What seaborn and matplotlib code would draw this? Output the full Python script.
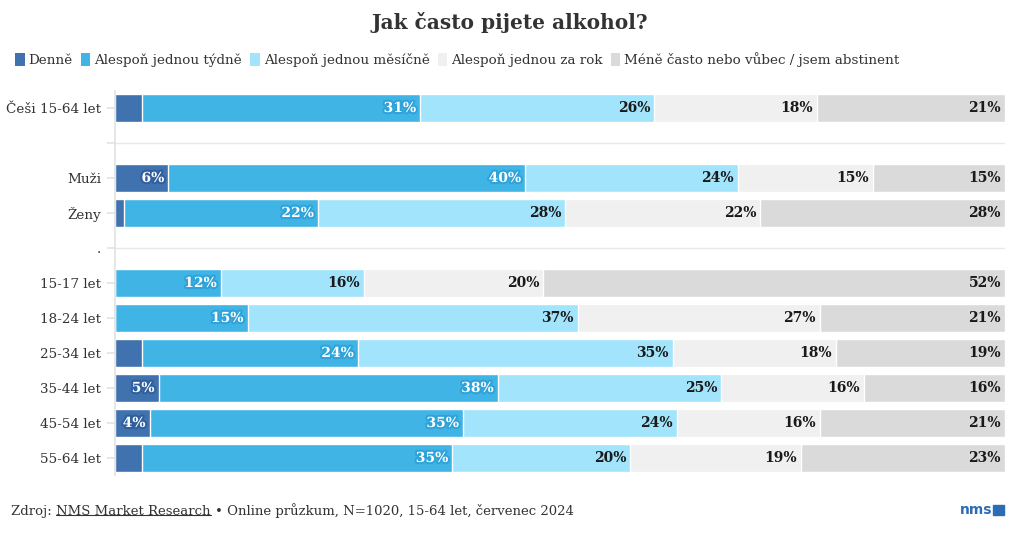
import pandas as pd
import seaborn as sns
import matplotlib.pyplot as plt
import matplotlib.patheffects as pe
from matplotlib.patches import Patch

# data (shares in %; labels show them rounded)
groups = ['Češi 15-64 let', ' ', 'Muži', 'Ženy', '.', '15-17 let', '18-24 let',
          '25-34 let', '35-44 let', '45-54 let', '55-64 let']
series = ['Denně', 'Alespoň jednou týdně', 'Alespoň jednou měsíčně',
          'Alespoň jednou za rok', 'Méně často nebo vůbec / jsem abstinent']
rows = ['Češi 15-64 let', 'Muži', 'Ženy', '15-17 let', '18-24 let',
        '25-34 let', '35-44 let', '45-54 let', '55-64 let']
denne = [3.0, 6.0, 1.0, 0.0, 0.0, 3.0, 4.9, 3.9, 3.0]
tydne = [31.3, 40.1, 21.8, 11.9, 14.9, 24.3, 38.1, 35.2, 34.9]
mesicne = [26.3, 23.9, 27.8, 16.1, 37.1, 35.4, 25.1, 24.0, 20.0]
rocne = [18.3, 15.2, 21.9, 20.1, 27.2, 18.3, 16.1, 16.1, 19.2]
mene = [21.1, 14.8, 27.5, 51.9, 20.8, 19.0, 15.8, 20.8, 22.9]

colors = ['#3f72af', '#41b4e6', '#a2e4fb', '#f0f0f0', '#dadada']
halo = ['#2f5f9c', '#2ea3d9', None, None, None]
txtcol = ['white', 'white', '#1a1a1a', '#1a1a1a', '#1a1a1a']

df = pd.DataFrame({'grp': rows, series[0]: denne, series[1]: tydne,
                   series[2]: mesicne, series[3]: rocne, series[4]: mene})
cum = df[series].cumsum(axis=1)
cum['grp'] = df['grp']

sns.set_theme(style='white')
plt.rcParams['font.family'] = ['DejaVu Serif']

fig = plt.figure(figsize=(10.2, 5.34), dpi=100)
ax = fig.add_axes([0.1127, 0.1096, 0.8726, 0.7209])

# stacked bars: draw cumulative totals from longest to shortest
for i in range(len(series) - 1, -1, -1):
    sns.barplot(data=cum, x=series[i], y='grp', order=groups,
                orient='h', color=colors[i], saturation=1, width=0.8,
                edgecolor='white', linewidth=1, ax=ax, zorder=2)

# value labels
for r, g in enumerate(rows):
    ypos = groups.index(g)
    for i, s in enumerate(series):
        v = df.loc[r, s]
        if round(v) < 4:
            continue
        end = cum.loc[r, s]
        t = ax.text(end - 0.45, ypos, f'{round(v)}%', ha='right', va='center',
                    fontsize=10, fontweight='bold', color=txtcol[i], zorder=5)
        if halo[i]:
            t.set_path_effects([pe.withStroke(linewidth=3, foreground=halo[i])])

ax.set_xlim(0, 100)
ax.set_ylim(len(groups) - 0.5, -0.5)
ax.set_xlabel('')
ax.set_ylabel('')
ax.set_xticks([])
ax.yaxis.grid(True, color='#e8e8e8', linewidth=1, zorder=0)
ax.set_axisbelow(True)
for sp in ['top', 'right', 'bottom']:
    ax.spines[sp].set_visible(False)
ax.spines['left'].set_color('#e3e3e3')
ax.tick_params(axis='y', length=6, color='#e3e3e3', labelsize=9.7,
               labelcolor='#333333', pad=4, left=True)

fig.text(0.5, 0.958, 'Jak často pijete alkohol?', ha='center', va='center',
         fontsize=14.5, fontweight='bold', color='#333333')

handles = [Patch(facecolor=c, edgecolor='none') for c in colors]
fig.legend(handles, series, loc='center left', bbox_to_anchor=(0.003, 0.888),
           ncol=5, frameon=False, fontsize=9.7, handlelength=0.7,
           handleheight=1.1, handletextpad=0.3, columnspacing=0.6,
           labelcolor='#333333')

# footer with underlined link
fig.canvas.draw()
rend = fig.canvas.get_renderer()
x = 0.011
for part, ul in [('Zdroj: ', False), ('NMS Market Research ', True),
                 ('• Online průzkum, N=1020, 15-64 let, červenec 2024', False)]:
    t = fig.text(x, 0.043, part, ha='left', va='center', fontsize=9.5,
                 color='#333333')
    bb = t.get_window_extent(rend).transformed(fig.transFigure.inverted())
    if ul:
        fig.add_artist(plt.Line2D([bb.x0, bb.x1 - 0.004], [bb.y0 + 0.004, bb.y0 + 0.004],
                                  color='#333333', linewidth=0.8,
                                  transform=fig.transFigure))
    x = bb.x1

fig.text(0.973, 0.045, 'nms', ha='right', va='center', fontsize=10,
         fontweight='bold', color='#2b6cb5', family=['DejaVu Sans'])
fig.add_artist(plt.Rectangle((0.974, 0.035), 0.010, 0.02, color='#2b6cb5',
                             transform=fig.transFigure))

fig.savefig('out.png', dpi=100, facecolor='white')
